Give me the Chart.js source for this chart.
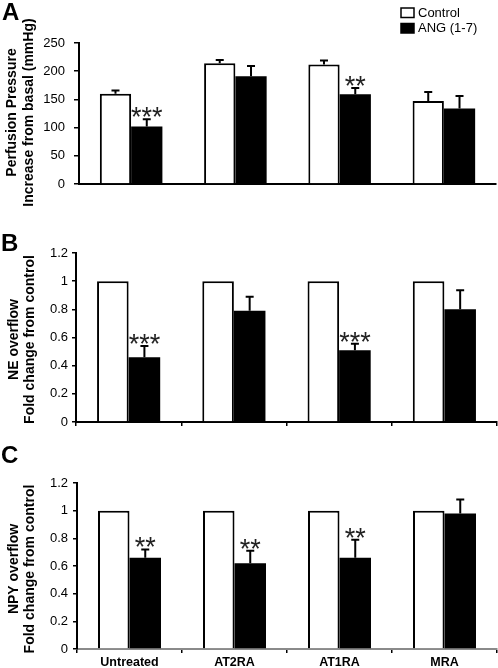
<!DOCTYPE html>
<html>
<head>
<meta charset="utf-8">
<script src="https://cdn.jsdelivr.net/npm/chart.js@4/dist/chart.umd.min.js"></script>
<style>
  html, body { margin: 0; padding: 0; background: #fff; }
  #wrap { position: relative; width: 498px; height: 668px; overflow: hidden; }
  canvas { position: absolute; left: 0; }
</style>
</head>
<body>
<div id="wrap">
  <canvas id="cA" width="498" height="222" style="top:0px"></canvas>
  <canvas id="cB" width="498" height="250" style="top:200px"></canvas>
  <canvas id="cC" width="498" height="228" style="top:440px"></canvas>
</div>
<script>
// ---------- data ----------
const categories = ['Untreated', 'AT2RA', 'AT1RA', 'MRA'];
const seriesNames = ['Control', 'ANG (1-7)'];

const perfControl = [160, 214, 212, 147];
const perfControlErr = [6, 6, 7, 16];
const perfAng = [102, 191, 159, 134];
const perfAngErr = [13, 18, 11, 22];
const perfStars = ['***', '', '**', ''];

const neControl = [1, 1, 1, 1];
const neAng = [0.46, 0.79, 0.51, 0.80];
const neAngErr = [0.08, 0.10, 0.045, 0.135];
const neStars = ['***', '', '***', ''];

const npyControl = [1, 1, 1, 1];
const npyAng = [0.66, 0.62, 0.66, 0.98];
const npyAngErr = [0.06, 0.09, 0.13, 0.10];
const npyStars = ['**', '**', '**', ''];

const perfTicks = [0, 50, 100, 150, 200, 250];
const foldTicks = [0, 0.2, 0.4, 0.6, 0.8, 1, 1.2];

const perfTitle = ['Perfusion Pressure', 'Increase from basal (mmHg)'];
const neTitle = ['NE overflow', 'Fold change from control'];
const npyTitle = ['NPY overflow', 'Fold change from control'];

// ---------- styling helpers ----------
const FONT = "'Liberation Sans', Arial, Helvetica, sans-serif";
Chart.defaults.font.family = FONT;
Chart.defaults.color = '#000';

const errorBarsPlugin = {
  id: 'errorBars',
  afterDatasetsDraw(chart) {
    const ctx = chart.ctx;
    const yScale = chart.scales.y;
    chart.data.datasets.forEach((ds, di) => {
      const meta = chart.getDatasetMeta(di);
      ds.data.forEach((v, j) => {
        const bar = meta.data[j];
        const err = ds.err ? ds.err[j] : 0;
        const yTop = yScale.getPixelForValue(v + (err || 0));
        if (err) {
          ctx.save();
          ctx.strokeStyle = '#000';
          ctx.lineWidth = 2;
          ctx.beginPath();
          ctx.moveTo(bar.x, bar.y);
          ctx.lineTo(bar.x, yTop);
          ctx.moveTo(bar.x - 4, yTop);
          ctx.lineTo(bar.x + 4, yTop);
          ctx.stroke();
          ctx.restore();
        }
        if (ds.stars && ds.stars[j]) {
          ctx.save();
          ctx.fillStyle = '#222';
          ctx.font = '27px ' + FONT;
          ctx.textAlign = 'center';
          ctx.textBaseline = 'alphabetic';
          ctx.fillText(ds.stars[j], bar.x, yTop + 7);
          ctx.restore();
        }
      });
    });
  }
};

const textPlugin = {
  id: 'panelText',
  afterDraw(chart, args, opts) {
    const ctx = chart.ctx;
    const ca = chart.chartArea;
    ctx.save();
    ctx.fillStyle = '#000';
    ctx.font = 'bold 24px ' + FONT;
    ctx.textAlign = 'left';
    ctx.textBaseline = 'alphabetic';
    ctx.fillText(opts.letter, opts.letterX, opts.letterY);
    // rotated y-axis title, centred on the plot area
    const cy = (ca.top + ca.bottom) / 2 + (opts.titleDy || 0);
    ctx.font = 'bold 14px ' + FONT;
    ctx.textAlign = 'center';
    ctx.textBaseline = 'middle';
    opts.title.forEach((line, i) => {
      ctx.save();
      ctx.translate(opts.titleX[i], cy);
      ctx.rotate(-Math.PI / 2);
      ctx.fillText(line, 0, 0);
      ctx.restore();
    });
    ctx.restore();
  }
};

const legendPlugin = {
  id: 'boxLegend',
  afterDraw(chart, args, opts) {
    if (!opts.show) return;
    const ctx = chart.ctx;
    ctx.save();
    chart.data.datasets.forEach((ds, i) => {
      const y = opts.y + i * opts.gap;
      ctx.fillStyle = ds.backgroundColor;
      ctx.fillRect(opts.x, y, 13, 9.5);
      ctx.strokeStyle = '#000';
      ctx.lineWidth = 1.5;
      ctx.strokeRect(opts.x, y, 13, 9.5);
      ctx.fillStyle = '#000';
      ctx.font = '13px ' + FONT;
      ctx.textAlign = 'left';
      ctx.textBaseline = 'middle';
      ctx.fillText(ds.label, opts.x + 17, y + 5);
    });
    ctx.restore();
  }
};

function makeChart(id, cfg) {
  const datasets = [
    {
      label: seriesNames[0], data: cfg.control, err: cfg.controlErr,
      backgroundColor: '#ffffff', borderColor: '#000', borderWidth: 2,
      borderSkipped: 'start', categoryPercentage: 0.6, barPercentage: 1.0
    },
    {
      label: seriesNames[1], data: cfg.ang, err: cfg.angErr, stars: cfg.stars,
      backgroundColor: '#000000', borderColor: '#000', borderWidth: 0,
      categoryPercentage: 0.6, barPercentage: 1.0
    }
  ];
  return new Chart(document.getElementById(id), {
    type: 'bar',
    data: { labels: categories, datasets },
    options: {
      responsive: false,
      animation: false,
      devicePixelRatio: 1,
      layout: { padding: { top: cfg.padTop, right: cfg.padRight, left: 0, bottom: 0 } },
      plugins: {
        legend: { display: false },
        tooltip: { enabled: false },
        panelText: cfg.text,
        boxLegend: cfg.legend || { show: false }
      },
      scales: {
        x: {
          offset: true,
          afterFit: (s) => { s.height = cfg.xHeight; },
          border: { display: true, color: cfg.xBorderColor || '#000', width: 2 },
          grid: {
            display: cfg.xTicks, offset: true, drawOnChartArea: false,
            drawTicks: true, tickLength: 4, color: '#000', lineWidth: 1.5
          },
          ticks: {
            display: cfg.xLabels, padding: 2, color: '#000',
            font: { family: FONT, size: 12.5, weight: 'bold' }
          }
        },
        y: {
          min: cfg.ticks[0], max: cfg.ticks[cfg.ticks.length - 1],
          afterFit: (s) => { s.width = cfg.yWidth; },
          afterBuildTicks: (s) => { s.ticks = cfg.ticks.map(v => ({ value: v })); },
          border: { display: true, color: '#000', width: 2 },
          grid: {
            display: true, drawOnChartArea: false, drawTicks: true,
            tickLength: cfg.yTickLen, color: '#000', lineWidth: 1.5
          },
          ticks: {
            padding: cfg.yLabelPad, color: '#000',
            font: { family: FONT, size: 13 },
            callback: (v) => String(v)
          },
          title: { display: false }
        }
      }
    },
    plugins: [errorBarsPlugin, textPlugin, legendPlugin]
  });
}

makeChart('cA', {
  control: perfControl, controlErr: perfControlErr, ang: perfAng, angErr: perfAngErr, stars: perfStars,
  ticks: perfTicks,
  padTop: 43, padRight: 2, xHeight: 38, yWidth: 79, yTickLen: 5, yLabelPad: 9,
  xTicks: false, xLabels: false,
  text: { letter: 'A', letterX: 2, letterY: 19.5, title: perfTitle, titleX: [12, 29], titleDy: -1 },
  legend: { show: true, x: 401, y: 8, gap: 15.5 }
});

makeChart('cB', {
  control: neControl, controlErr: null, ang: neAng, angErr: neAngErr, stars: neStars,
  ticks: foldTicks,
  padTop: 53, padRight: 1, xHeight: 28, yWidth: 76, yTickLen: 4, yLabelPad: 4,
  xTicks: true, xLabels: false,
  text: { letter: 'B', letterX: 1, letterY: 51, title: neTitle, titleX: [14, 30], titleDy: 2 },
});

makeChart('cC', {
  control: npyControl, controlErr: null, ang: npyAng, angErr: npyAngErr, stars: npyStars,
  ticks: foldTicks,
  padTop: 43, padRight: 1, xHeight: 19, yWidth: 77, yTickLen: 4, yLabelPad: 5,
  xTicks: true, xLabels: true, xBorderColor: '#8a8a8a',
  text: { letter: 'C', letterX: 1, letterY: 22.5, title: npyTitle, titleX: [14, 30], titleDy: 3 }
});
</script>
</body>
</html>
